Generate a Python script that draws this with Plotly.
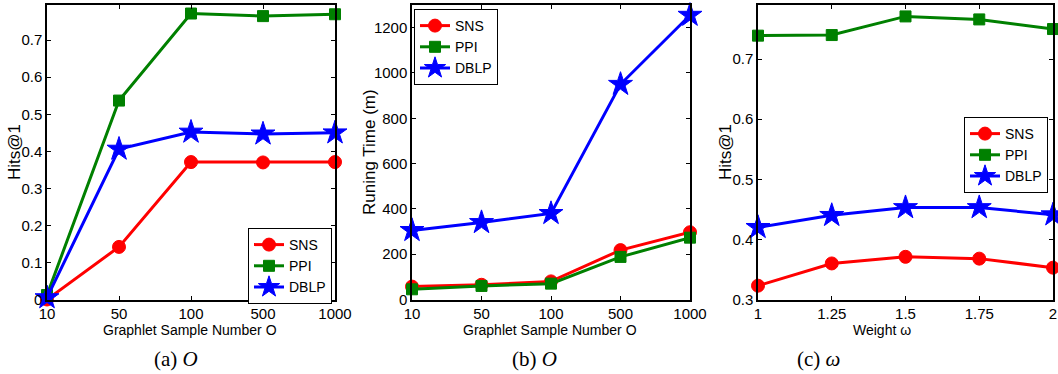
import plotly.graph_objects as go

# ---- data ----
sample_numbers = ["10", "50", "100", "500", "1000"]
hits_sns = [0.0, 0.142, 0.371, 0.370, 0.371]
hits_ppi = [0.012, 0.537, 0.772, 0.765, 0.770]
hits_dblp = [0.005, 0.406, 0.452, 0.447, 0.450]

time_sns = [57, 65, 80, 218, 297]
time_ppi = [45, 60, 70, 188, 273]
time_dblp = [305, 340, 380, 950, 1255]

weights = [1, 1.25, 1.5, 1.75, 2]
weight_labels = ["1", "1.25", "1.5", "1.75", "2"]
w_sns = [0.323, 0.360, 0.371, 0.368, 0.353]
w_ppi = [0.739, 0.740, 0.771, 0.766, 0.750]
w_dblp = [0.420, 0.440, 0.453, 0.453, 0.441]

series_names = ["SNS", "PPI", "DBLP"]
colors = ["#ff0000", "#008000", "#0000ff"]
symbols = ["circle", "square", "star"]
msizes = [13, 11, 18]

W, H = 1058, 374
def px(x):
    return x / W
def py(y):
    return 1 - y / H

SANS = "Liberation Sans, Arial, sans-serif"
SERIF = "Liberation Serif, Times New Roman, serif"
FS = 14

fig = go.Figure()

panels = [
    (sample_numbers, [hits_sns, hits_ppi, hits_dblp], "x", "y", "legend"),
    (sample_numbers, [time_sns, time_ppi, time_dblp], "x2", "y2", "legend2"),
    (weights, [w_sns, w_ppi, w_dblp], "x3", "y3", "legend3"),
]
for xs, ys_list, xa, ya, lg in panels:
    for i, ys in enumerate(ys_list):
        fig.add_trace(go.Scatter(
            x=xs, y=ys, mode="lines+markers", name=series_names[i],
            xaxis=xa, yaxis=ya, legend=lg, cliponaxis=False,
            line=dict(color=colors[i], width=3),
            marker=dict(symbol=symbols[i], size=msizes[i], color=colors[i],
                        line=dict(color=colors[i], width=1)),
        ))

ydom = [py(299.5), py(5)]
axis_common = dict(showline=True, linecolor="black", linewidth=1.5, mirror="ticks",
                   ticks="inside", ticklen=4, tickcolor="black", tickwidth=1,
                   showgrid=False, zeroline=False, automargin=False,
                   tickfont=dict(family=SANS, size=15, color="black"))

fig.update_layout(
    width=W, height=H,
    margin=dict(l=0, r=0, t=0, b=0, pad=0, autoexpand=False),
    paper_bgcolor="white", plot_bgcolor="white",
    xaxis=dict(domain=[px(47), px(335)], anchor="y", type="category",
               range=[0, 4], **axis_common),
    yaxis=dict(domain=ydom, anchor="x", range=[0, 0.795], dtick=0.1, tick0=0,
               **axis_common),
    xaxis2=dict(domain=[px(412), px(690)], anchor="y2", type="category",
                range=[0, 4], **axis_common),
    yaxis2=dict(domain=ydom, anchor="x2", range=[0, 1300], dtick=200, tick0=0,
                **axis_common),
    xaxis3=dict(domain=[px(758), px(1053)], anchor="y3", range=[1, 2],
                tickvals=weights, ticktext=weight_labels,
                **axis_common),
    yaxis3=dict(domain=ydom, anchor="x3", range=[0.3, 0.79], dtick=0.1, tick0=0.3,
                **axis_common),
    showlegend=True,
)

legend_common = dict(bgcolor="white", bordercolor="black", borderwidth=1,
                     font=dict(family=SANS, size=FS, color="black"),
                     yanchor="top", tracegroupgap=0, itemwidth=30)
fig.update_layout(
    legend=dict(x=px(332), y=py(228), xanchor="right", **legend_common),
    legend2=dict(x=px(414), y=py(9), xanchor="left", **legend_common),
    legend3=dict(x=px(1048), y=py(117), xanchor="right", **legend_common),
)

annotations = []
# x axis titles
for x, t in [(190, "Graphlet Sample Number O"), (550, "Graphlet Sample Number O"), (882, "Weight ω")]:
    annotations.append(dict(x=px(x), y=py(330), xref="paper", yref="paper", text=t,
                            showarrow=False, xanchor="center", yanchor="middle",
                            font=dict(family=SANS, size=FS, color="black")))
# y axis titles
for x, t in [(14, "Hits@1"), (369, "Runing Time (m)"), (725, "Hits@1")]:
    annotations.append(dict(x=px(x), y=py(152), xref="paper", yref="paper", text=t,
                            showarrow=False, xanchor="center", yanchor="middle",
                            textangle=-90,
                            font=dict(family=SANS, size=17, color="black")))
# captions
for x, t in [(176, "(a) <i>O</i>"), (534, "(b) <i>O</i>"), (818, "(c) <i>ω</i>")]:
    annotations.append(dict(x=px(x), y=py(359), xref="paper", yref="paper", text=t,
                            showarrow=False, xanchor="center", yanchor="middle",
                            font=dict(family=SERIF, size=21, color="black")))
fig.update_layout(annotations=annotations)

fig.write_html("out.html")
